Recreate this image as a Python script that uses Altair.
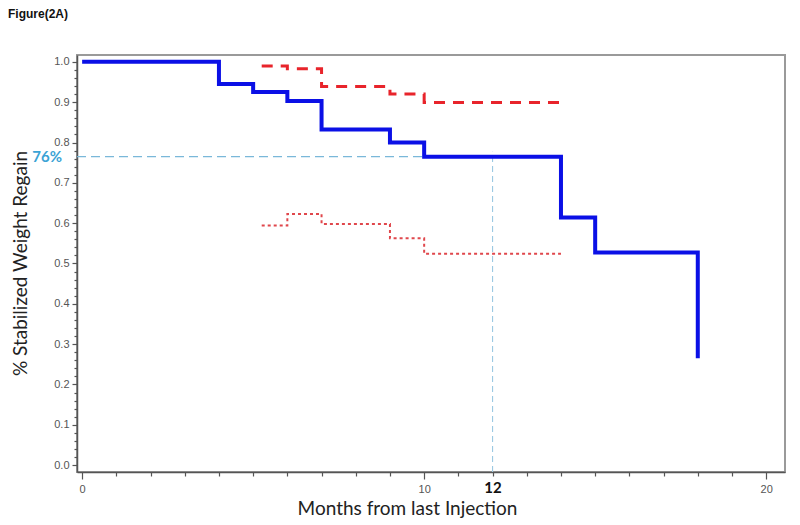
import altair as alt
import pandas as pd

# ---- data ----
blue_x = [0, 4, 5, 6, 7, 9, 10, 14, 15, 18]
blue_y = [1.0, 0.945, 0.925, 0.903, 0.832, 0.80, 0.765, 0.614, 0.527, 0.265]

dash_x = [5.25, 6, 7, 9, 10, 14]
dash_y = [0.99, 0.983, 0.939, 0.92, 0.899, 0.899]

dot_x = [5.25, 6, 7, 9, 10, 14]
dot_y = [0.594, 0.623, 0.598, 0.5625, 0.524, 0.524]

ref_month = 12
ref_value = 0.765
ref_top = 0.777

x_ticks = list(range(0, 21))
y_ticks = [round(i * 0.02, 2) for i in range(0, 51)]

X_DOMAIN = [-0.15, 20.55]
Y_DOMAIN = [-0.017, 1.017]

blue_df = pd.DataFrame({"m": blue_x, "v": blue_y})
dash_df = pd.DataFrame({"m": dash_x, "v": dash_y})
dot_df = pd.DataFrame({"m": dot_x, "v": dot_y})
hline_df = pd.DataFrame({"m": [X_DOMAIN[0]], "m2": [ref_month], "v": [ref_value]})
vline_df = pd.DataFrame({"m": [ref_month], "v": [Y_DOMAIN[0]], "v2": [ref_top]})
lab_df = pd.DataFrame({"v": [ref_value], "t": ["76%"]})
title_df = pd.DataFrame({"t": ["Figure(2A)"]})

xscale = alt.Scale(domain=X_DOMAIN, nice=False, zero=False)
yscale = alt.Scale(domain=Y_DOMAIN, nice=False, zero=False)

x_axis = alt.Axis(
    title="Months from last Injection",
    values=x_ticks,
    format="d",
    labelExpr="(datum.value % 10 == 0 || datum.value == 12) ? datum.label : ''",
    labelFont={"condition": {"test": "datum.value == 12", "value": "Lato"}, "value": "Liberation Sans"},
    labelFontSize={"condition": {"test": "datum.value == 12", "value": 15}, "value": 11},
    labelFontWeight={"condition": {"test": "datum.value == 12", "value": "bold"}, "value": "normal"},
    labelColor={"condition": {"test": "datum.value == 12", "value": "#111111"}, "value": "#555555"},
    tickSize={"condition": {"test": "datum.value % 10 == 0", "value": 7}, "value": 4},
    tickColor="#555555",
    tickWidth=1.2,
    labelPadding=4,
    domainColor="#555555",
    domainWidth=1.5,
    grid=False,
    titleFont="Lato",
    titleFontSize=19,
    titleFontWeight="normal",
    titleColor="#222222",
    titleX=330,
    titleY=42,
    titleBaseline="alphabetic",
)

major_y = "abs(datum.value*10 - round(datum.value*10)) < 0.001"
y_axis = alt.Axis(
    title="% Stabilized Weight Regain",
    values=y_ticks,
    format=".1f",
    labelExpr=f"({major_y}) ? datum.label : ''",
    labelFont="Liberation Sans",
    labelFontSize=11,
    labelColor="#555555",
    tickSize={"condition": {"test": major_y, "value": 5}, "value": 3},
    tickColor="#555555",
    tickWidth=1.2,
    labelPadding=3,
    domainColor="#555555",
    domainWidth=1.5,
    grid=False,
    titleFont="Lato",
    titleFontSize=19,
    titleFontWeight="normal",
    titleColor="#222222",
    titleAngle=-90,
    titleX=-51,
    titleY=208,
    titleBaseline="alphabetic",
)

base_x = alt.X("m:Q", scale=xscale, axis=x_axis)
base_y = alt.Y("v:Q", scale=yscale, axis=y_axis)

hline = alt.Chart(hline_df).mark_rule(color="#7ab8d9", strokeDash=[9, 5], strokeWidth=1.3).encode(
    x=base_x, x2="m2:Q", y=base_y
)
vline = alt.Chart(vline_df).mark_rule(color="#9cc9e2", strokeDash=[6, 4], strokeWidth=1.1).encode(
    x=base_x, y=base_y, y2="v2:Q"
)
blue = alt.Chart(blue_df).mark_line(interpolate="step-after", color="#0b10e6", strokeWidth=4).encode(
    x=base_x, y=base_y
)
dashed = alt.Chart(dash_df).mark_line(
    interpolate="step-after", color="#e8242b", strokeWidth=3, strokeDash=[11, 8]
).encode(x=base_x, y=base_y)
dotted = alt.Chart(dot_df).mark_line(
    interpolate="step-after", color="#e0474c", strokeWidth=2, strokeDash=[3, 3]
).encode(x=base_x, y=base_y)
lab = alt.Chart(lab_df).mark_text(
    align="right", baseline="middle", color="#3ba3d5", fontWeight="bold", fontSize=15, font="Lato"
).encode(x=alt.value(-15), y=base_y, text="t:N")
title = alt.Chart(title_df).mark_text(
    align="left", baseline="top", color="#111111", fontWeight="bold", fontSize=12, font="Liberation Sans"
).encode(x=alt.value(-69), y=alt.value(-46), text="t:N")

chart = alt.layer(hline, vline, dotted, dashed, blue, lab, title).properties(
    width=708,
    height=417,
    autosize="none",
    padding={"left": 69, "top": 47, "right": 7, "bottom": 55},
).configure_view(stroke="#9a9a9a", strokeWidth=2)

chart.save("out.html", embed_options={"renderer": "svg", "actions": False})
